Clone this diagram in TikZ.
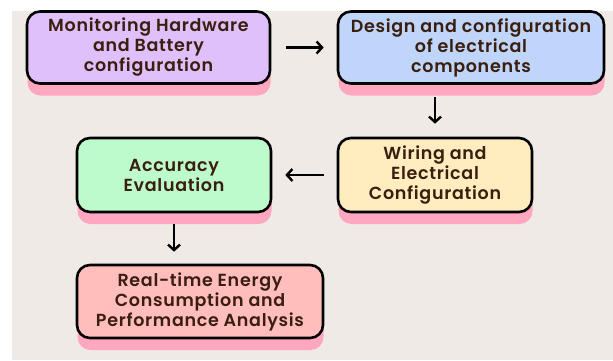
\documentclass[tikz,border=0pt]{standalone}
\usepackage{fontspec}
\setmainfont{Poppins}[BoldFont={Poppins SemiBold}, LetterSpace=4]
\usepackage{tikz}
\usetikzlibrary{positioning,shadows,arrows.meta}

\definecolor{bgbeige}{HTML}{EFEAE6}
\definecolor{txtbrown}{HTML}{3A1E0E}
\definecolor{shadowpink}{HTML}{FFA6C0}
\definecolor{fillpurple}{HTML}{E0C0FA}
\definecolor{fillblue}{HTML}{C0D5FA}
\definecolor{fillyellow}{HTML}{FFEDC0}
\definecolor{fillgreen}{HTML}{BEFBCC}
\definecolor{fillpink}{HTML}{FFBEBB}

\begin{document}
\begin{tikzpicture}[
x=1pt, y=1pt,
>={Straight Barb[length=5.5pt,width=12pt]},
box/.style={rectangle, rounded corners=13pt, draw=black, line width=2.6pt, minimum height=72pt, align=center,
  text=txtbrown, font=\fontsize{17.5}{20}\selectfont\bfseries,
  general shadow={shadow xshift=0.5pt, shadow yshift=-12pt, fill=shadowpink}},
flow/.style={->, line width=2.4pt}
]
\useasboundingbox (0,0) rectangle (613,-360);
\fill[white] (0,0) rectangle (613,-360);
\fill[bgbeige] (12,-11) rectangle (613,-360);

\node[box, fill=fillpurple, minimum width=243pt](monitor) at (148.5,-47.5){Monitoring Hardware\\and Battery\\configuration};
\node[box, fill=fillblue, minimum width=266pt](design)[right of = monitor, node distance=322.5pt]{Design and configuration\\of electrical\\components};
\node[box, fill=fillyellow, minimum width=194pt, minimum height=74pt](wiring)[below of = design, node distance=127.5pt, xshift=-36pt]{Wiring and\\Electrical\\Configuration};
\node[box, fill=fillgreen, minimum width=194pt, minimum height=74pt](accuracy)[left of = wiring, node distance=261pt]{Accuracy\\Evaluation};
\node[box, fill=fillpink, minimum width=246pt, minimum height=73pt](realtime)[below of = accuracy, node distance=126.5pt, xshift=26pt]{Real-time Energy\\Consumption and\\Performance Analysis};

\draw[flow, shorten <=15pt, shorten >=13pt] (monitor) -- (design);
\draw[flow, shorten <=12pt, shorten >=13pt] (design.south -| wiring.north) -- (wiring.north);
\draw[flow, shorten <=13pt, shorten >=13pt] (wiring) -- (accuracy);
\draw[flow, shorten <=11pt, shorten >=12pt] (accuracy.south) -- (accuracy.south |- realtime.north);

\end{tikzpicture}
\end{document}
